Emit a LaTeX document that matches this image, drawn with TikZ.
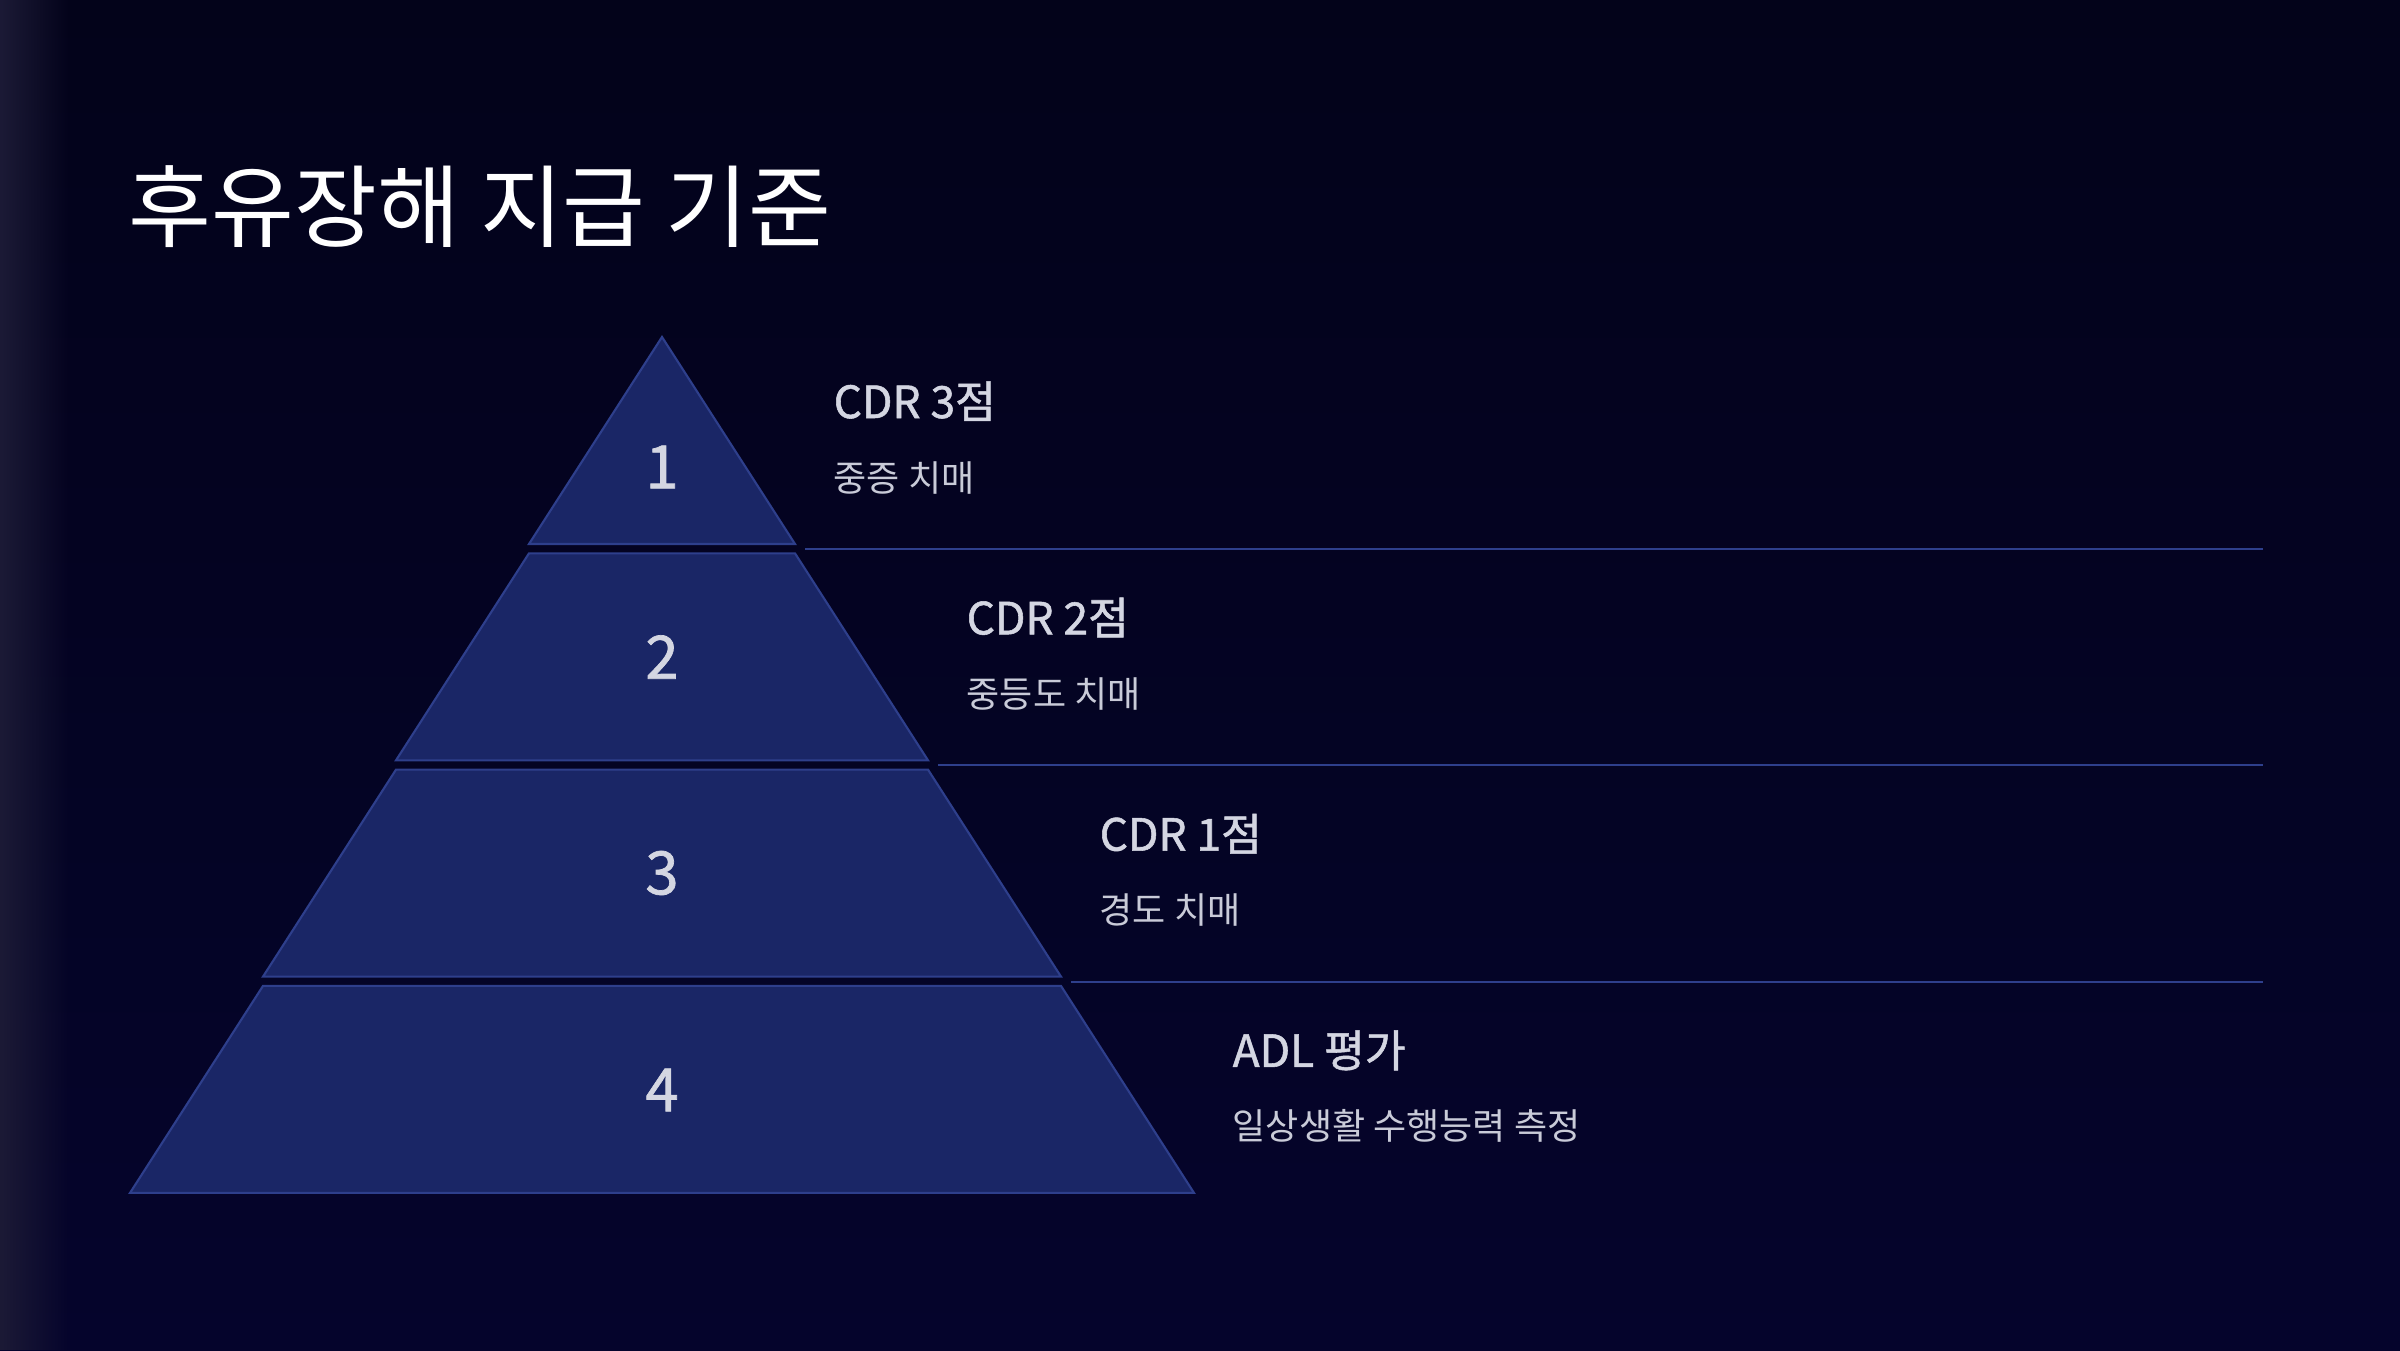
\documentclass[tikz,border=0pt]{standalone}
\usepackage{fontspec}
\setmainfont{Noto Sans CJK KR}
\usetikzlibrary{positioning,fadings}
\definecolor{bgtop}{HTML}{03031A}
\definecolor{bgbot}{HTML}{05042C}
\definecolor{bgedge}{HTML}{1C1A36}
\definecolor{tierfill}{HTML}{1A2666}
\definecolor{tieredge}{HTML}{2E3F8C}
\definecolor{headtext}{HTML}{D4D6E2}
\definecolor{subtext}{HTML}{C9CBD8}
\tikzfading[name=fade right, left color=transparent!0, right color=transparent!100]
\tikzset{
tier/.style={fill=tierfill,draw=tieredge,line width=0.6pt,line join=miter},
tiernum/.style={text=headtext,
  font=\addfontfeatures{FakeBold=1.2}\fontsize{17}{17}\selectfont},
tierhead/.style={anchor=base west,inner sep=0pt,text=headtext,
  font=\addfontfeatures{FakeBold=1.2}\fontsize{12.6}{13}\selectfont},
tiersub/.style={anchor=base west,inner sep=0pt,text=subtext,
  font=\fontsize{10.25}{11}\selectfont},
divider/.style={draw=tieredge,line width=0.6pt},
}

\begin{document}
\begin{tikzpicture}[x=0.01cm,y=-0.01cm]
% the background
\fill[top color=bgtop,bottom color=bgbot] (0,0) rectangle (2400,1350);
\fill[bgedge,path fading=fade right] (0,0) rectangle (70,1350);
\useasboundingbox (0,0) rectangle (2400,1350);
% the title
\node[anchor=base west,inner sep=0pt,text=white,font=\fontsize{25.6}{26}\selectfont]
  (title) at (128,240) {후유장해 지급 기준};
% the tiers
\foreach \i/\ny/\head/\sub in {1/467/CDR 3점/중증 치매,
                               2/657/CDR 2점/중등도 치매,
                               3/873/CDR 1점/경도 치매,
                               4/1090/ADL 평가/일상생활 수행능력 측정}
{
  \pgfmathsetmacro{\ytop}{337+(\i-1)*216.3}
  \pgfmathsetmacro{\ybot}{\ytop+207}
  \pgfmathsetmacro{\wtop}{(\i-1)*133}
  \pgfmathsetmacro{\wbot}{\i*133}
  \draw[tier] (662-\wtop,\ytop) -- (662+\wtop,\ytop) -- (662+\wbot,\ybot)
    -- (662-\wbot,\ybot) -- cycle;
  \node[tiernum] (num-\i) at (662,\ny) {\i};
  \node[tierhead] (head-\i) at (662+\wbot+38,\ytop+81) {\head};
  \node[tiersub] (sub-\i) at (662+\wbot+38,\ytop+154) {\sub};
}
% the rules between the rows
\foreach \i in {1,2,3}
{
  \pgfmathsetmacro{\yrule}{337+207+5+(\i-1)*216.3}
  \coordinate (rule-\i-a) at (662+\i*133+10,\yrule);
  \coordinate (rule-\i-b) at (2263,\yrule);
  \draw[divider] (rule-\i-a) -- (rule-\i-b);
}
\end{tikzpicture}
\end{document}
